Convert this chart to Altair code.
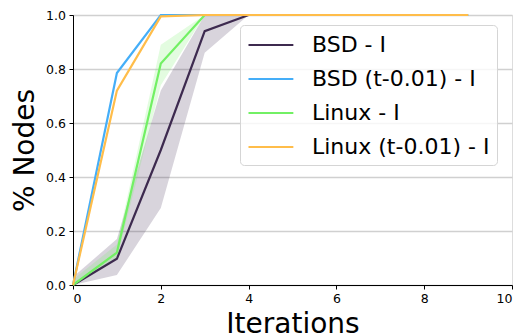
import altair as alt
import pandas as pd

# Fraction of nodes reached per iteration, mean and spread over runs
iterations = list(range(10))
series_names = ["BSD - I", "BSD (t-0.01) - I", "Linux - I", "Linux (t-0.01) - I"]
colors = ["#3d2a4f", "#45aef8", "#72f064", "#ffbd4a"]

bsd = [0.0, 0.097, 0.50, 0.94, 1.0, 1.0, 1.0, 1.0, 1.0, 1.0]
bsd_lo = [0.0, 0.037, 0.285, 0.86, 1.0, 1.0, 1.0, 1.0, 1.0, 1.0]
bsd_hi = [0.03, 0.17, 0.72, 1.0, 1.0, 1.0, 1.0, 1.0, 1.0, 1.0]

bsd_t = [0.0, 0.785, 1.0, 1.0, 1.0, 1.0, 1.0, 1.0, 1.0, 1.0]

linux = [0.0, 0.12, 0.82, 1.0, 1.0, 1.0, 1.0, 1.0, 1.0, 1.0]
linux_lo = [0.0, 0.10, 0.74, 1.0, 1.0, 1.0, 1.0, 1.0, 1.0, 1.0]
linux_hi = [0.02, 0.15, 0.89, 1.0, 1.0, 1.0, 1.0, 1.0, 1.0, 1.0]

linux_t = [0.0, 0.72, 0.995, 1.0, 1.0, 1.0, 1.0, 1.0, 1.0, 1.0]

means = [bsd, bsd_t, linux, linux_t]
lows = [bsd_lo, bsd_t, linux_lo, linux_t]
highs = [bsd_hi, bsd_t, linux_hi, linux_t]

rows = []
for name, m, lo, hi in zip(series_names, means, lows, highs):
    for it, v, a, b in zip(iterations, m, lo, hi):
        rows.append({"iter": it, "series": name, "value": v, "lo": a, "hi": b})
df = pd.DataFrame(rows)

font = "DejaVu Sans"
color_scale = alt.Scale(domain=series_names, range=colors)
# Legend swatches: a horizontal line segment drawn right of the symbol origin
legend = alt.Legend(
    title=None, orient="none", legendX=167, legendY=10,
    symbolType="M-1,0H2.9", symbolSize=529, symbolStrokeWidth=2.2, symbolOpacity=1,
    labelFontSize=22, labelFont=font, labelColor="black", labelLimit=400,
    labelOffset=39, padding=7, rowPadding=10,
    strokeColor="#d5d5d5", fillColor="rgba(255,255,255,0.8)",
    cornerRadius=4,
)
color_enc = alt.Color("series:N", scale=color_scale, legend=legend, sort=series_names)

x_enc = alt.X(
    "iter:Q",
    scale=alt.Scale(domain=[0, 10], nice=False),
    axis=alt.Axis(
        values=[0, 2, 4, 6, 8, 10], format="d", grid=False, title="Iterations",
        titleFontSize=28, titleFont=font, titleFontWeight="normal",
        titleBaseline="alphabetic", titleY=47, titleColor="black",
        labelFontSize=12.5, labelFont=font, labelColor="black", labelPadding=3,
        tickSize=4, tickColor="black", domainColor="black",
    ),
)
y_axis = alt.Axis(
    values=[0, 0.2, 0.4, 0.6, 0.8, 1.0], format=".1f", grid=True,
    gridColor="#d0d0d0", gridWidth=1.5, title="% Nodes",
    titleFontSize=28, titleFont=font, titleFontWeight="normal",
    titleBaseline="alphabetic", titleX=-40, titleY=135, titleAngle=270,
    titleAlign="center", titleColor="black",
    labelFontSize=12.5, labelFont=font, labelColor="black", labelPadding=3.5,
    tickSize=4, tickColor="black", domainColor="black",
)
y_scale = alt.Scale(domain=[0, 1], nice=False)

bands = (
    alt.Chart(df[df["series"].isin(["BSD - I", "Linux - I"])])
    .mark_area(opacity=0.2)
    .encode(
        x=x_enc,
        y=alt.Y("lo:Q", scale=y_scale, axis=y_axis),
        y2="hi:Q",
        color=color_enc,
        detail="series:N",
    )
)

lines = (
    alt.Chart(df)
    .mark_line(strokeWidth=2.2)
    .encode(
        x=x_enc,
        y=alt.Y("value:Q", scale=y_scale, axis=y_axis),
        color=color_enc,
    )
)

chart = (
    alt.layer(bands, lines)
    .properties(
        width=439, height=270, autosize="none",
        padding={"left": 73, "top": 15, "right": 7, "bottom": 51},
    )
    .configure_view(stroke="#111", strokeWidth=1.2)
    .configure(background="white")
)

chart.save("out.html", embed_options={"renderer": "svg", "actions": False})
